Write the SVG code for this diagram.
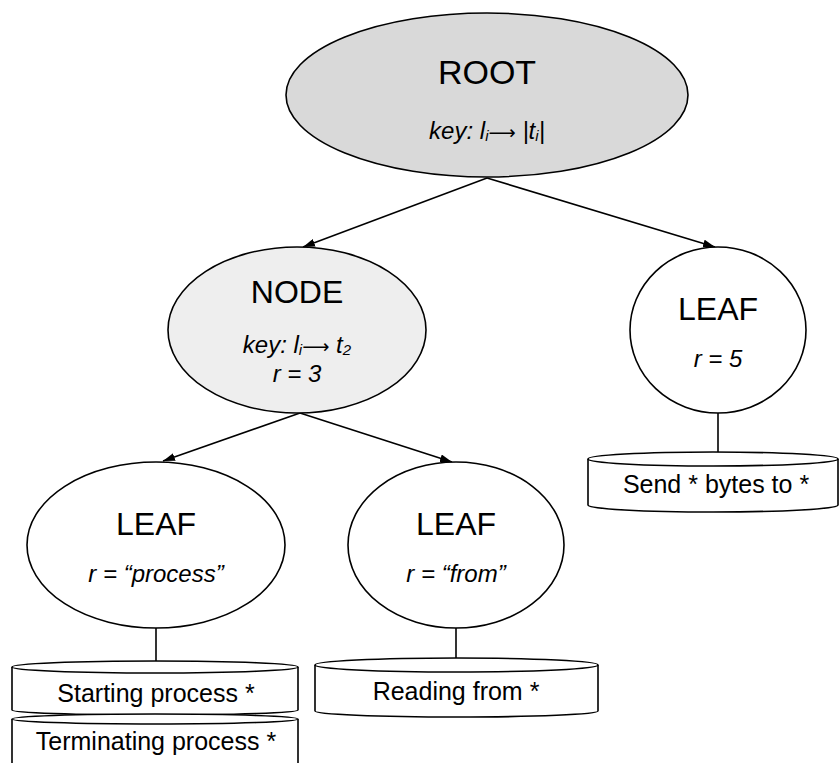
<svg xmlns="http://www.w3.org/2000/svg" width="840" height="763" viewBox="0 0 840 763">
<defs>
<marker id="ah" viewBox="0 0 12 8" refX="12" refY="4" markerWidth="12" markerHeight="8" markerUnits="userSpaceOnUse" orient="auto">
<path d="M0,0 L12,4 L0,8 Z" fill="#000"/>
</marker>
<style>
.sh{stroke:#000;stroke-width:1.6}
.t{font-family:"Liberation Sans",Arial,sans-serif;fill:#000;text-anchor:middle}
.ti{font-size:32px}
.it{font-size:24px;font-style:italic}
.cy{font-size:25px}
.sub{font-size:15px}
.ar{font-family:"DejaVu Sans",sans-serif;font-size:19px;font-style:normal}
.ln{stroke:#000;stroke-width:1.6;fill:none}
</style>
</defs>
<rect width="840" height="763" fill="#fff"/>
<g id="connectors">
<line class="ln" x1="487" y1="178" x2="303" y2="247" marker-end="url(#ah)"/>
<line class="ln" x1="487" y1="178" x2="715" y2="247" marker-end="url(#ah)"/>
<line class="ln" x1="300" y1="413" x2="163" y2="461" marker-end="url(#ah)"/>
<line class="ln" x1="300" y1="413" x2="452" y2="462" marker-end="url(#ah)"/>
<line class="ln" x1="718" y1="413" x2="718" y2="453"/>
<line class="ln" x1="156" y1="628" x2="156" y2="661"/>
<line class="ln" x1="456" y1="628" x2="456" y2="658"/>
</g>
<g id="root">
<ellipse class="sh" cx="487" cy="95" rx="201" ry="82" fill="#d9d9d9"/>
<text class="t" x="487" y="84" style="font-size:34px">ROOT</text>
<text class="t it" x="487" y="139">key: l<tspan class="sub" dy="2">i</tspan><tspan class="ar" dy="-2">⟶</tspan> |t<tspan class="sub" dy="2">i</tspan><tspan dy="-2">|</tspan></text>
</g>
<g id="node">
<ellipse class="sh" cx="297" cy="330" rx="129" ry="83" fill="#eeeeee"/>
<text class="t ti" x="297" y="303">NODE</text>
<text class="t it" x="297" y="353">key: l<tspan class="sub" dy="2">i</tspan><tspan class="ar" dy="-2">⟶</tspan> t<tspan class="sub" dy="2">2</tspan></text>
<text class="t it" x="297" y="382">r = 3</text>
</g>
<g id="leaf-right">
<ellipse class="sh" cx="718" cy="330" rx="88" ry="83" fill="#fff"/>
<text class="t ti" x="718" y="320">LEAF</text>
<text class="t it" x="718" y="367">r = 5</text>
</g>
<g id="leaf-left">
<ellipse class="sh" cx="156" cy="545" rx="129" ry="83" fill="#fff"/>
<text class="t ti" x="156" y="535">LEAF</text>
<text class="t it" x="156" y="582">r = “process”</text>
</g>
<g id="leaf-mid">
<ellipse class="sh" cx="456" cy="545" rx="108" ry="83" fill="#fff"/>
<text class="t ti" x="456" y="535">LEAF</text>
<text class="t it" x="456" y="582">r = “from”</text>
</g>
<g id="store-send">
<path class="sh" d="M588,459 L588,505 A125,7 0 0 0 838,505 L838,459" fill="#fff"/>
<ellipse class="sh" cx="713" cy="459" rx="125" ry="7" fill="#fff"/>
<text class="t cy" x="716" y="493">Send * bytes to *</text>
</g>
<g id="store-starting">
<path class="sh" d="M12,667 L12,710 A143,5 0 0 0 298,710 L298,667" fill="#fff"/>
<ellipse class="sh" cx="155" cy="667" rx="143" ry="6" fill="#fff"/>
<text class="t cy" x="156" y="702">Starting process *</text>
</g>
<g id="store-terminating">
<path class="sh" d="M12,719 L12,775 L298,775 L298,719" fill="#fff"/>
<ellipse class="sh" cx="155" cy="719" rx="143" ry="5" fill="#fff"/>
<text class="t cy" x="156" y="750">Terminating process *</text>
</g>
<g id="store-reading">
<path class="sh" d="M315,665 L315,711 A141.5,6 0 0 0 598,711 L598,665" fill="#fff"/>
<ellipse class="sh" cx="456.5" cy="665" rx="141.5" ry="7" fill="#fff"/>
<text class="t cy" x="456" y="700">Reading from *</text>
</g>
</svg>
